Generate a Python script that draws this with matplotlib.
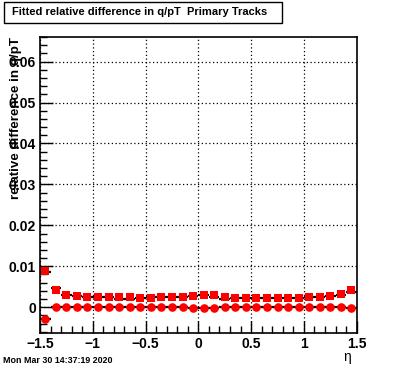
import numpy as np
import matplotlib
matplotlib.use("Agg")
import matplotlib.pyplot as plt
from matplotlib.ticker import MultipleLocator

plt.rcParams['font.family'] = ['Liberation Sans', 'DejaVu Sans']
plt.rcParams['font.weight'] = 'bold'

# --- data: 30 eta bins from -1.5 to 1.5 ---
eta = np.arange(-1.45, 1.5, 0.1)
mean_fit = [0.0089, 0.0043, 0.0031, 0.0028, 0.0025, 0.0025, 0.0025, 0.0025, 0.0025, 0.0023,
            0.0023, 0.0024, 0.0024, 0.0024, 0.0028, 0.0031, 0.0031, 0.0025, 0.0023, 0.0023,
            0.0023, 0.0023, 0.0023, 0.0023, 0.0023, 0.0024, 0.0025, 0.0028, 0.0033, 0.0043]
mean_hist = [0.0087, 0.0048, 0.0030, 0.0028, 0.0025, 0.0025, 0.0025, 0.0021, 0.0021, 0.0023,
             0.0026, 0.0026, 0.0026, 0.0026, 0.0028, 0.0031, 0.0026, 0.0021, 0.0023, 0.0023,
             0.0023, 0.0023, 0.0023, 0.0023, 0.0023, 0.0026, 0.0025, 0.0028, 0.0031, 0.0037]
offset = [-0.0028, 0.0, 0.0, 0.0, 0.0, 0.0, 0.0, 0.0, 0.0, 0.0,
          0.0, 0.0, 0.0, 0.0, -0.0003, -0.0003, -0.0003, 0.0, 0.0, 0.0,
          0.0, 0.0, 0.0, 0.0, 0.0, 0.0, 0.0, 0.0, 0.0, -0.0002]

fig = plt.figure(figsize=(3.96, 3.72), dpi=100)
ax = fig.add_axes([0.101, 0.1048, 0.7997, 0.7957])

# black histogram-style bars (bin width)
ax.errorbar(eta, mean_hist, xerr=0.05, fmt='none', ecolor='black', elinewidth=1.6, capsize=0, zorder=2)
ax.errorbar(eta, offset, xerr=0.05, fmt='none', ecolor='black', elinewidth=1.6, capsize=0, zorder=2)

# red markers
ax.plot(eta, mean_fit, 's', color='#ff0000', markersize=5.2, markeredgewidth=0, zorder=3)
ax.plot(eta, offset, 'o', color='#ff0000', markersize=6.2, markeredgewidth=0, zorder=3)

ax.set_xlim(-1.5, 1.5)
ax.set_ylim(-0.0063, 0.066)
ax.xaxis.set_major_locator(MultipleLocator(0.5))
ax.xaxis.set_minor_locator(MultipleLocator(0.1))
ax.yaxis.set_major_locator(MultipleLocator(0.01))
ax.yaxis.set_minor_locator(MultipleLocator(0.002))
ax.set_xticks([-1.5, -1, -0.5, 0, 0.5, 1, 1.5])
ax.set_xticklabels(['\u22121.5', '\u22121', '\u22120.5', '0', '0.5', '1', '1.5'])
ax.set_yticks([0, 0.01, 0.02, 0.03, 0.04, 0.05, 0.06])
ax.set_yticklabels(['0', '0.01', '0.02', '0.03', '0.04', '0.05', '0.06'])
ax.tick_params(which='both', direction='in', top=False, right=False, labelsize=10, width=1)
ax.tick_params(which='major', length=9, pad=3)
ax.tick_params(which='minor', length=5)
ax.grid(True, which='major', linestyle=(0, (1, 2)), color='black', linewidth=0.9)
for s in ax.spines.values():
    s.set_linewidth(1.2)

ax.set_ylabel('relative difference in q/pT', fontsize=9.6, fontweight='bold', loc='top', labelpad=-10)
fig.text(0.887, 0.022, '\u03b7', fontsize=10, fontweight='normal', ha='right', va='bottom')

# title box
fig.text(0.0303, 0.968, 'Fitted relative difference in q/pT  Primary Tracks', fontsize=8, fontweight='bold',
         ha='left', va='center')
fig.patches.append(plt.Rectangle((0.0101, 0.939), 0.702, 0.0565, transform=fig.transFigure,
                                 fill=False, edgecolor='black', linewidth=1))

fig.text(0.008, 0.018, 'Mon Mar 30 14:37:19 2020', fontsize=6.4, fontweight='bold', ha='left', va='bottom')

fig.savefig('out.png', dpi=100)
